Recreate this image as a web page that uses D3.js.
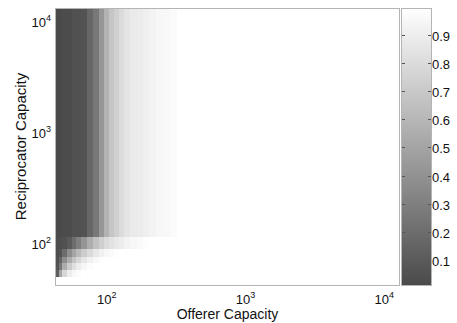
<!DOCTYPE html>
<html>
<head>
<meta charset="utf-8">
<script src="https://cdn.jsdelivr.net/npm/d3@7"></script>
<style>
  body { margin: 0; background: #fff; }
  svg { display: block; font-family: "Liberation Sans", Arial, sans-serif; }
</style>
</head>
<body>
<figure id="heat" style="margin:0"></figure>
<script>
// axis limits (capacity units)
const offererLimits = [42.4, 13000];
const reciprocatorLimits = [39.4, 12300];
const powerTicks = [2, 3, 4];
const colorLimits = [0.011, 0.996];
const colorTicks = [0.1, 0.2, 0.3, 0.4, 0.5, 0.6, 0.7, 0.8, 0.9];

// cell edges
const offererEdges = [42.4, 45, 48, 52, 56, 60, 65, 72, 80, 88, 96, 104, 112, 122, 134, 148, 164, 182, 202, 226, 254, 286, 320, 13000];
const reciprocatorEdges = [39.4, 47, 54, 62, 71, 84, 108, 12300];

// one row of values per reciprocator band, bottom to top
const row0 = [0.996, 0.996, 0.996, 0.996, 0.996, 0.996, 0.996, 0.996, 0.996, 0.996, 0.996, 0.996, 0.996, 0.996, 0.996, 0.996, 0.996, 0.996, 0.996, 0.996, 0.996, 0.996, 0.996];
const row1 = [0.12, 0.50, 0.78, 0.90, 0.95, 0.98, 0.996, 0.996, 0.996, 0.996, 0.996, 0.996, 0.996, 0.996, 0.996, 0.996, 0.996, 0.996, 0.996, 0.996, 0.996, 0.996, 0.996];
const row2 = [0.06, 0.25, 0.55, 0.72, 0.83, 0.90, 0.95, 0.98, 0.996, 0.996, 0.996, 0.996, 0.996, 0.996, 0.996, 0.996, 0.996, 0.996, 0.996, 0.996, 0.996, 0.996, 0.996];
const row3 = [0.04, 0.15, 0.38, 0.55, 0.68, 0.78, 0.86, 0.92, 0.96, 0.985, 0.996, 0.996, 0.996, 0.996, 0.996, 0.996, 0.996, 0.996, 0.996, 0.996, 0.996, 0.996, 0.996];
const row4 = [0.03, 0.06, 0.20, 0.38, 0.50, 0.62, 0.72, 0.80, 0.87, 0.92, 0.95, 0.97, 0.985, 0.996, 0.996, 0.996, 0.996, 0.996, 0.996, 0.996, 0.996, 0.996, 0.996];
const row5 = [0.02, 0.03, 0.05, 0.10, 0.20, 0.30, 0.42, 0.55, 0.66, 0.74, 0.80, 0.84, 0.87, 0.90, 0.93, 0.95, 0.97, 0.99, 0.996, 0.996, 0.996, 0.996, 0.996];
const row6 = [0.01, 0.01, 0.02, 0.02, 0.05, 0.05, 0.06, 0.17, 0.26, 0.43, 0.58, 0.68, 0.74, 0.80, 0.85, 0.88, 0.89, 0.91, 0.93, 0.95, 0.96, 0.975, 0.996];
const rows = [row0, row1, row2, row3, row4, row5, row6];

const width = 457, height = 323;
const plot = { left: 55, right: 400, top: 8, bottom: 285 };
const bar = { left: 401, right: 431 };

const svg = d3.select("figure#heat")
  .append("svg")
  .attr("width", width)
  .attr("height", height);

svg.append("rect").attr("width", width).attr("height", height).attr("fill", "#fff");

const x = d3.scaleLog().domain(offererLimits).range([plot.left, plot.right]);
const y = d3.scaleLog().domain(reciprocatorLimits).range([plot.bottom, plot.top]);
const color = d3.scaleLinear().domain(colorLimits).range(["#4a4a4a", "#ffffff"]).clamp(true);

const cells = [];
rows.forEach((row, j) => {
  row.forEach((v, i) => {
    cells.push({ x0: offererEdges[i], x1: offererEdges[i + 1], y0: reciprocatorEdges[j], y1: reciprocatorEdges[j + 1], v: v });
  });
});

svg.append("g")
  .selectAll("rect")
  .data(cells)
  .enter()
  .append("rect")
  .attr("x", d => x(d.x0))
  .attr("y", d => y(d.y1))
  .attr("width", d => x(d.x1) - x(d.x0) + 0.3)
  .attr("height", d => y(d.y0) - y(d.y1) + 0.3)
  .attr("fill", d => color(d.v))
  .attr("shape-rendering", "crispEdges");

// plot box
svg.append("rect")
  .attr("x", plot.left + 0.5)
  .attr("y", plot.top + 0.5)
  .attr("width", plot.right - plot.left - 1)
  .attr("height", plot.bottom - plot.top)
  .attr("fill", "none")
  .attr("stroke", "#b4b4b4");

// power-of-ten tick labels
const xLab = svg.append("g").selectAll("text")
  .data(powerTicks).enter().append("text")
  .attr("x", d => x(Math.pow(10, d)))
  .attr("y", 303.5)
  .attr("text-anchor", "middle")
  .attr("font-size", 13)
  .attr("fill", "#111");
xLab.append("tspan").text("10");
xLab.append("tspan").attr("dy", -6).attr("font-size", 9).text(d => d);

const yLab = svg.append("g").selectAll("text")
  .data(powerTicks).enter().append("text")
  .attr("x", 51)
  .attr("y", d => y(Math.pow(10, d)) + 9)
  .attr("text-anchor", "end")
  .attr("font-size", 13)
  .attr("fill", "#111");
yLab.append("tspan").text("10");
yLab.append("tspan").attr("dy", -6).attr("font-size", 9).text(d => d);

svg.append("text")
  .attr("x", (plot.left + plot.right) / 2)
  .attr("y", 319)
  .attr("text-anchor", "middle")
  .attr("font-size", 14)
  .attr("fill", "#111")
  .text("Offerer Capacity");

svg.append("text")
  .attr("transform", "translate(26," + (plot.top + plot.bottom) / 2 + ")rotate(-90)")
  .attr("text-anchor", "middle")
  .attr("font-size", 15)
  .attr("fill", "#111")
  .text("Reciprocator Capacity");

// colorbar
const c = d3.scaleLinear().domain(colorLimits).range([plot.bottom, plot.top]);
const grad = svg.append("defs").append("linearGradient")
  .attr("id", "cbar").attr("x1", 0).attr("y1", 1).attr("x2", 0).attr("y2", 0);
grad.append("stop").attr("offset", 0).attr("stop-color", color(colorLimits[0]));
grad.append("stop").attr("offset", 1).attr("stop-color", color(colorLimits[1]));

svg.append("rect")
  .attr("x", bar.left + 0.5)
  .attr("y", plot.top + 0.5)
  .attr("width", bar.right - bar.left)
  .attr("height", plot.bottom - plot.top)
  .attr("fill", "url(#cbar)")
  .attr("stroke", "#b4b4b4");

const cTicks = svg.append("g").selectAll("g")
  .data(colorTicks).enter().append("g")
  .attr("transform", d => "translate(0," + (Math.round(c(d)) + 0.5) + ")");
cTicks.append("line").attr("x1", bar.left + 1).attr("x2", bar.left + 4).attr("stroke", "#555");
cTicks.append("line").attr("x1", bar.right - 3).attr("x2", bar.right).attr("stroke", "#555");
cTicks.append("text")
  .attr("x", bar.right + 1)
  .attr("y", 5)
  .attr("font-size", 13)
  .attr("fill", "#111")
  .text(d => d3.format(".1f")(d));
</script>
</body>
</html>
